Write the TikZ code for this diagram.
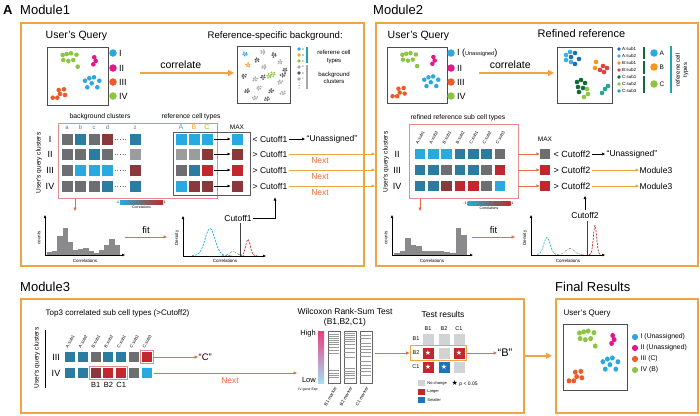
\documentclass[tikz,border=0pt]{standalone}
\usepackage{fontspec}
\setmainfont{Liberation Sans}
\newfontfamily\symfont{DejaVu Sans}
\usetikzlibrary{arrows.meta, positioning, calc, fit}

\definecolor{frameor}{HTML}{F0A443}
\definecolor{nextred}{HTML}{EC6A3C}
\definecolor{arrred}{HTML}{E8694F}
\definecolor{pinkred}{HTML}{E48C8F}
\definecolor{qblue}{HTML}{29A9E0}
\definecolor{qmag}{HTML}{E5168B}
\definecolor{qorange}{HTML}{EE5B2B}
\definecolor{qgreen}{HTML}{8CC63F}
\definecolor{bgorange}{HTML}{F7A12E}
\definecolor{bggray1}{HTML}{A7A9AC}
\definecolor{bggray2}{HTML}{58595B}
\definecolor{legteal}{HTML}{1FA5AA}
\definecolor{hmgray}{HTML}{6D6E71}
\definecolor{hmteal}{HTML}{2A7CA0}
\definecolor{hmlblue}{HTML}{27AAE1}
\definecolor{hmdred}{HTML}{8B383C}
\definecolor{hmred}{HTML}{C1272D}
\definecolor{hmlgray}{HTML}{9B9C9E}
\definecolor{histgray}{HTML}{8A8A8C}
\definecolor{asub1}{HTML}{1B6FB5}
\definecolor{asub2}{HTML}{3AAFE4}
\definecolor{bsub1}{HTML}{F7941D}
\definecolor{bsub2}{HTML}{E2403A}
\definecolor{csub1}{HTML}{0F6B37}
\definecolor{csub2}{HTML}{8DC63F}
\definecolor{csub3}{HTML}{1FA78F}
\definecolor{gpink}{HTML}{E6407E}
\definecolor{gblue}{HTML}{A5DDF3}
\definecolor{tgray}{HTML}{D1D3D4}
\definecolor{tblue}{HTML}{1C75BC}

\newcommand{\fsz}[1]{\fontsize{#1}{1.2\dimexpr#1pt\relax}\selectfont}
\newcommand{\tstar}{{\symfont\fsz{7}★}}
% query scatter, in the frame of a 61 x 58 box
\newcommand{\querydots}{%
  \foreach \px/\py in {15.7/8,19.7/7,24/6.3,29.5/7.7,16.3/13,21.3/14,26.3/13,30.7/19.7}
    {\fill[qgreen] (\px,\py) circle (2.3pt);}
  \foreach \px/\py in {47.3/10.3,48.7/13.9,46.3/17.3}
    {\fill[qmag] (\px,\py) circle (2.3pt);}
  \foreach \px/\py in {38/33.7,42.3/31.3,47/30.3,52.3/33.7,44.7/36.3,50.3/40.3,40.3/40.3}
    {\fill[qblue] (\px,\py) circle (2.3pt);}
  \foreach \px/\py in {5.7/50.7,10.3/50.7,13/47,11.7/43,17/42.3,18/48}
    {\fill[qorange] (\px,\py) circle (2.3pt);}
}

\begin{document}
\begin{tikzpicture}[x=1pt, y=-1pt,
  modtitle/.style={anchor=west, inner sep=0, font=\fsz{13}},
  txt/.style={inner sep=0.5pt, font=\fsz{#1}},
  modframe/.style={draw=frameor, line width=1.5pt, inner sep=0, anchor=north west},
  sbox/.style={draw=black!70, line width=0.9pt, inner sep=0, anchor=north west},
  hmbox/.style={draw=pinkred, line width=0.7pt, inner sep=0, anchor=north west},
  gbox/.style={draw=black!65, line width=0.8pt, inner sep=0, anchor=north west},
  selbox/.style={draw=pinkred, line width=0.8pt, inner sep=1.3pt},
  selor/.style={draw=frameor, line width=0.8pt, inner sep=2pt},
  cell/.style={minimum size=#1, inner sep=0, outer sep=0},
  ldot/.style={circle, minimum size=7.5pt, inner sep=0},
  sdot/.style={circle, minimum size=3.6pt, inner sep=0},
  lsq/.style={minimum width=7pt, minimum height=6pt, inner sep=0},
  cbar/.style={minimum width=43pt, minimum height=4pt, inner sep=0,
    left color=hmlblue, right color=hmred, middle color=hmgray},
  orarrow/.style={draw=frameor, line width=1.6pt, shorten >=3pt,
    -{Triangle[length=6pt,width=6pt]}},
  thinor/.style={draw=frameor, line width=0.9pt, shorten <=1pt,
    -{Triangle[length=3.5pt,width=3pt]}},
  redarrow/.style={draw=arrred, line width=0.8pt, -{Triangle[length=3.5pt,width=3pt]}},
  blkarrow/.style={draw=black, line width=0.6pt, shorten <=1pt, shorten >=1pt,
    -{Triangle[length=3pt,width=2.6pt]}},
  plotaxis/.style={draw=black, line width=0.6pt, -{Triangle[length=3pt,width=2.4pt]}},
  dotrow/.style={draw=black!55, line width=0.9pt, dash pattern=on 0.9pt off 1.8pt,
    shorten <=1.5pt, shorten >=1.5pt},
  dblue/.style={draw=hmlblue, line width=0.7pt, dash pattern=on 2pt off 1.2pt},
  dgray/.style={draw=black!45, line width=0.6pt, dash pattern=on 2pt off 1pt on 0.5pt off 1pt},
  dred/.style={draw=hmred, line width=0.7pt, dash pattern=on 2pt off 1.2pt},
  stripe/.style={draw=black!40, line width=0.5pt}]

\useasboundingbox (0,0) rectangle (700,415);
\fill[white] (0,0) rectangle (700,415);

% frames
\node[inner sep=0, anchor=west, font=\fsz{13}\bfseries] (panelA) at (3,10) {A};
\node[modtitle] (m1title) at (20,10) {Module1};
\node[modtitle] (m2title) at (373,10) {Module2};
\node[modtitle] (m3title) at (20,287) {Module3};
\node[modtitle] (ftitle) at (555,287) {Final Results};
\node[modframe, minimum width=343pt, minimum height=243pt] (m1box) at (20,22) {};
\node[modframe, minimum width=322pt, minimum height=243pt] (m2box) at (375,22) {};
\node[modframe, minimum width=503pt, minimum height=114pt] (m3box) at (20,298) {};
\node[modframe, minimum width=142pt, minimum height=114pt] (fbox) at (555,298) {};
\draw[orarrow] (m3box.east) -- (fbox.west);

% ---------- Module1: query and background ----------
\node[txt=10.5, anchor=west] (q1title) at (45,36) {User’s Query};
\node[sbox, minimum width=61pt, minimum height=58pt] (q1box) at (47,47) {};
\begin{scope}[shift={(47,47)}]\querydots\end{scope}
\foreach \nm/\yy/\cc in {I/53/qblue, II/68/qmag, III/82/qorange, IV/96/qgreen}{
  \node[ldot, fill=\cc] (q1d-\nm) at (113,\yy) {};
  \node[txt=9, anchor=west] (q1l-\nm) at (118.5,\yy) {\nm};
}
\node[txt=9.6, anchor=west] (bgtitle) at (207,36) {Reference-specific background:};
\node[sbox, minimum width=53pt, minimum height=57pt] (bgbox) at (237,46) {};
\coordinate (cor1s) at (140,73);
\draw[orarrow] (cor1s) -- node[pos=0.42, above=3pt, txt=10.5] (cor1lbl) {correlate} (bgbox.west |- cor1s);
\begin{scope}[shift={(237,46)}]
  \foreach \cx/\cy/\cc [count=\j] in {8/8/qblue, 11/19/bgorange, 36/28/qgreen, 32/30/qgreen,
      26/6/bggray1, 37/9/bggray2, 43/16/bggray1, 48/24/bggray2, 20/14/bggray2,
      27/21/bggray1, 7/30/bggray2, 18/33/bggray1, 26/31/bggray2, 43/36/bggray1,
      10/45/bggray2, 22/42/bggray1, 34/45/bggray2, 46/47/bggray1, 18/52/bggray1,
      30/53/bggray2, 46/29/bggray2}{
    \fill[\cc] (\cx,\cy) circle (0.95pt);
    \foreach \n in {1,...,5}{
      \pgfmathsetmacro\ang{\n*72+\j*29}
      \pgfmathsetmacro\rad{2.1+0.5*sin(\n*130+\j*50)}
      \fill[\cc] ({\cx+\rad*cos(\ang)},{\cy+0.8*\rad*sin(\ang)}) circle (0.95pt);
    }
  }
\end{scope}
\foreach \yy/\cc/\ll in {49/qblue/A, 55/bgorange/B, 61/qgreen/C, 67/bggray1/a, 73/bggray2/b, 79/bggray1/c}{
  \node[sdot, fill=\cc] (bgd-\ll) at (299,\yy) {};
  \node[txt=3, anchor=west, text=black!60] (bgt-\ll) at (301.3,\yy) {\ll};
}
\foreach \yy in {83,85.5,88} \fill[black!60] (299,\yy) circle (0.5pt);
\draw[legteal, line width=1.1pt] (307,47) -- (307,63);
\draw[black!35, line width=1.1pt] (307,65) -- (307,89);
\node[txt=6, align=center] (bgl1) at (334,57) {referene cell\\types};
\node[txt=6, align=center] (bgl2) at (334,78) {background\\clusters};

% ---------- Module1: correlation matrix ----------
\node[txt=6.8] (bgcl) at (100,117) {background clusters};
\node[txt=6.8] (rfct) at (191,117) {reference cell types};
\node[hmbox, minimum width=159pt, minimum height=75pt] (hm1box) at (58,123) {};
\node[gbox, minimum width=77pt, minimum height=63pt] (abc1box) at (173,132) {};
\foreach \ll/\xx in {a/67, b/80.5, c/94, d/107.5, z/135}
  \node[txt=6, text=black!55] (m1h-\ll) at (\xx,127.5) {\ll};
\node[txt=7, text=qblue] (m1h-A) at (181,127) {A};
\node[txt=7, text=bgorange] (m1h-B) at (194,127) {B};
\node[txt=7, text=qgreen] (m1h-C) at (207,127) {C};
\node[txt=6.5] (m1maxl) at (237,127) {MAX};
\node[txt=6.5, rotate=90] (m1ylab) at (39,163) {User’s query clusters};
\foreach \rr/\yy/\cl in {
    I/139/{hmgray,hmteal,hmgray,hmdred,hmteal,hmlblue,hmlblue,hmlblue,hmlblue},
    II/154/{hmgray,hmgray,hmteal,hmgray,hmlgray,hmlgray,hmlgray,hmdred,hmdred},
    III/170/{hmgray,hmlblue,hmlblue,hmlblue,hmdred,hmgray,hmteal,hmred,hmred},
    IV/186/{hmgray,hmgray,hmgray,hmteal,hmteal,hmlblue,hmdred,hmdred,hmdred}}{
  \node[txt=9] (m1r-\rr) at (50,\yy) {\rr};
  \foreach \cc [count=\k] in \cl {
    \pgfmathsetmacro\xx{{67,80.5,94,107.5,135,181,194,207,237}[\k-1]}
    \node[cell=11pt, fill=\cc] (m1c-\rr-\k) at (\xx,\yy) {};
  }
  \draw[dotrow] (m1c-\rr-4.east) -- (m1c-\rr-5.west);
  \draw[blkarrow] (m1c-\rr-8.east) -- (m1c-\rr-9.west);
}
\node[txt=8.5, anchor=west] (m1cut-I) at (252,139) {< Cutoff1};
\node[txt=8.5, anchor=west] (m1un) at (306,139) {“Unassigned”};
\draw[blkarrow] (m1cut-I.east) -- (m1un.west);
\foreach \rr/\yy in {II/154, III/170, IV/186}{
  \node[txt=8.5, anchor=west] (m1cut-\rr) at (252,\yy) {> Cutoff1};
  \draw[thinor] (m1cut-\rr.east) -- (m2box.west |- m1cut-\rr.east);
  \node[txt=8.5, text=nextred] (next-\rr) at (320,{\yy+7}) {Next};
}
\node[cbar] (cb1) at (141.5,202) {};
\node[txt=3.5, anchor=east] (cb1m) at (cb1.west) {-1};
\node[txt=3.5, anchor=west] (cb1p) at (cb1.east) {1};
\node[txt=3.5, below=0.6pt of cb1] (cb1t) {Correlations};

% ---------- Module1: histogram and fit ----------
\coordinate (h1top) at (75,211);
\draw[redarrow] (hm1box.south -| h1top) -- (h1top);
\coordinate (h1o) at (45,255);
\foreach \h [count=\i from 0] in {2.5,4,19,27,13,4.5,5.5,7,4,1.5,4.5,10,16,10}
  \fill[histgray] ({47+\i*5.2},254.6) rectangle ++(5.2,-\h);
\draw[plotaxis] (h1o) -- ++(0,-40);
\draw[plotaxis] (h1o) -- ++(80,0);
\node[txt=4.5, rotate=90] (h1y) at (39,238) {counts};
\node[txt=4.5] (h1x) at (85,261) {Correlations};
\coordinate (fit1s) at (125,237);
\coordinate (fit1e) at (167,237);
\draw[redarrow] (fit1s) -- node[above=3pt, txt=9.5] (fit1lbl) {fit} (fit1e);
\coordinate (d1o) at (183,256);
\draw[dblue] plot[domain=192:232, samples=40, smooth] (\x,{255.5-27*exp(-((\x-210)/7)*((\x-210)/7))});
\draw[dgray] plot[domain=222:244, samples=25, smooth] (\x,{255.5-4*exp(-((\x-233)/5)*((\x-233)/5))});
\draw[dred] plot[domain=240:257, samples=25, smooth] (\x,{255.5-16*exp(-((\x-248)/3.2)*((\x-248)/3.2))});
\draw[black!75, line width=0.8pt] (240,223) -- (240,256);
\draw[plotaxis] (d1o) -- ++(0,-40);
\draw[plotaxis] (d1o) -- ++(83,0);
\node[txt=4.5, rotate=90] (d1y) at (177,238) {Density};
\node[txt=4.5] (d1x) at (225,261) {Correlations};
\node[txt=8.5] (cut1lbl) at (238,218) {Cutoff1};
\coordinate (cut1tip) at (275,196.5);
\draw[blkarrow] (cut1lbl.east) -| (cut1tip);

% ---------- Module2: query and refined reference ----------
\node[txt=10.5, anchor=west] (q2title) at (387,36) {User’s Query};
\node[sbox, minimum width=60pt, minimum height=56pt] (q2box) at (387,47) {};
\begin{scope}[shift={(387,47)}, xscale=0.98, yscale=0.97]\querydots\end{scope}
\foreach \nm/\yy/\cc in {II/68/qmag, III/82/qorange, IV/96/qgreen}{
  \node[ldot, fill=\cc] (q2d-\nm) at (451,\yy) {};
  \node[txt=9, anchor=west] (q2l-\nm) at (456.5,\yy) {\nm};
}
\node[ldot, fill=qblue] (q2d-I) at (451,53) {};
\node[txt=9, anchor=west] (q2l-I) at (456.5,53) {I ({\fsz{5.5}Unassigned})};
\node[txt=11, anchor=west] (rftitle) at (537,34) {Refined reference};
\node[sbox, minimum width=55pt, minimum height=56pt] (rfbox) at (557,47) {};
\coordinate (cor2s) at (479,73);
\draw[orarrow] (cor2s) -- node[pos=0.4, above=3pt, txt=10.5] (cor2lbl) {correlate} (rfbox.west |- cor2s);
\foreach \px/\py/\cc in {566/55/asub2, 570/52/asub2, 566/60/asub2, 571/62/asub2,
    575/53/asub1, 579/59/asub1, 575/64/asub1, 571/57/asub1,
    596/62/bsub1, 595/68/bsub1, 603/66/bsub2, 607/68/bsub2, 604/72/bsub2, 600/70/bsub2,
    577/82/csub1, 581/80/csub1, 585/83/csub1, 578/87/csub1, 583/88/csub1, 579/92/csub1,
    587/89/csub2, 588/94/csub2, 584/97/csub2, 605/89/csub3, 608/86/csub3, 602/93/csub3}
  \fill[\cc] (\px,\py) circle (2.3pt);
\foreach \yy/\cc/\ll [count=\k] in {49/asub1/A:sub1, 56/asub2/A:sub2, 63/bsub1/B:sub1,
    70/bsub2/B:sub2, 77/csub1/C:sub1, 84/csub2/C:sub2, 91/csub3/C:sub3}{
  \node[sdot, fill=\cc] (rfd-\k) at (619,\yy) {};
  \node[txt=4.5, anchor=west] (rft-\k) at (621.5,\yy) {\ll};
}
\draw[csub1, line width=1.2pt] (644,47) -- (644,59);
\draw[csub1, line width=1.2pt] (644,61) -- (644,74);
\draw[csub1, line width=1.2pt] (644,76) -- (644,93);
\foreach \ll/\yy/\cc in {A/53/qblue, B/67/bsub1, C/84/qgreen}{
  \node[ldot, fill=\cc] (rfb-\ll) at (654,\yy) {};
  \node[txt=6.5, anchor=west] (rfbl-\ll) at (659,\yy) {\ll};
}
\draw[legteal, line width=1.1pt] (671,46) -- (671,93);
\node[txt=6, rotate=90, align=center] (rfctl) at (682,70) {referene cell\\types};

% ---------- Module2: sub cell type matrix ----------
\node[txt=6.8, anchor=west] (rsct) at (410,117.5) {refined reference sub cell types};
\node[hmbox, minimum width=109pt, minimum height=74pt] (hm2box) at (409,124) {};
\foreach \nm [count=\k] in {A:sub1,A:sub2,B:sub1,B:sub2,C:sub1,C:sub2,C:sub3}
  \node[txt=4.3, rotate=60, anchor=west] (m2h-\k) at ({420+(\k-1)*13.33-3.5},144) {\nm};
\node[txt=6.5, rotate=90] (m2ylab) at (386,162) {User’s query clusters};
\node[txt=6.5] (m2maxl) at (545,139) {MAX};
\foreach \rr/\yy/\cl in {
    II/154/{hmlblue,hmlblue,hmlblue,hmteal,hmteal,hmteal,hmgray,hmgray},
    III/170/{hmteal,hmteal,hmgray,hmteal,hmteal,hmgray,hmred,hmred},
    IV/186/{hmteal,hmteal,hmdred,hmred,hmred,hmgray,hmlblue,hmred}}{
  \node[txt=9] (m2r-\rr) at (397,\yy) {\rr};
  \foreach \cc [count=\k] in \cl {
    \pgfmathsetmacro\xx{\k<8 ? 420+(\k-1)*13.33 : 545}
    \node[cell=10.5pt, fill=\cc] (m2c-\rr-\k) at (\xx,\yy) {};
  }
  \draw[redarrow] (hm2box.east |- m2c-\rr-8.west) -- (m2c-\rr-8.west);
}
\node[txt=9, anchor=west] (m2cut-II) at (553,154) {< Cutoff2};
\node[txt=8.5, anchor=west] (m2un) at (606,154) {“Unassigned”};
\draw[blkarrow] (m2cut-II.east) -- (m2un.west);
\foreach \rr/\yy in {III/170, IV/186}{
  \node[txt=9, anchor=west] (m2cut-\rr) at (553,\yy) {> Cutoff2};
  \node[txt=8.5, anchor=west] (m2mod-\rr) at (639,\yy) {Module3};
  \draw[thinor] (m2cut-\rr.east) -- (m2mod-\rr.west);
}
\node[cbar] (cb2) at (489,203) {};
\node[txt=3.5, anchor=east] (cb2m) at (cb2.west) {-1};
\node[txt=3.5, anchor=west] (cb2p) at (cb2.east) {1};
\node[txt=3.5, below=0.6pt of cb2] (cb2t) {Correlations};

% ---------- Module2: histogram and fit ----------
\coordinate (h2top) at (420,211);
\draw[redarrow] (hm2box.south -| h2top) -- (h2top);
\coordinate (h2o) at (392,255);
\foreach \h [count=\i from 0] in {1.7,3.3,17,9.3,8.3,3.3,4,4,3.3,2.7,1.7,27,20}
  \fill[histgray] ({394+\i*5.6},254.6) rectangle ++(5.6,-\h);
\draw[plotaxis] (h2o) -- ++(0,-40);
\draw[plotaxis] (h2o) -- ++(81,0);
\node[txt=4.5, rotate=90] (h2y) at (386,238) {counts};
\node[txt=4.5] (h2x) at (432,261) {Correlations};
\coordinate (fit2s) at (472,237);
\coordinate (fit2e) at (515,237);
\draw[redarrow] (fit2s) -- node[above=3pt, txt=9.5] (fit2lbl) {fit} (fit2e);
\coordinate (d2o) at (531,255);
\draw[dblue] plot[domain=537:558, samples=30, smooth] (\x,{254.5-17*exp(-((\x-547)/4.5)*((\x-547)/4.5))});
\draw[dgray] plot[domain=557:584, samples=30, smooth] (\x,{254.5-6*exp(-((\x-570)/6)*((\x-570)/6))});
\draw[dred] plot[domain=589:601, samples=30, smooth] (\x,{254.5-29*exp(-((\x-595)/2.3)*((\x-595)/2.3))});
\draw[black!75, line width=0.8pt] (587,221) -- (587,255);
\draw[plotaxis] (d2o) -- ++(0,-40);
\draw[plotaxis] (d2o) -- ++(74,0);
\node[txt=4.5, rotate=90] (d2y) at (525,238) {Density};
\node[txt=4.5] (d2x) at (568,261) {Correlations};
\node[txt=8.5] (cut2lbl) at (585,215) {Cutoff2};
\coordinate (cut2tip) at (585,195);
\draw[blkarrow] (cut2lbl.north) -- (cut2tip);

% ---------- Module3 ----------
\node[txt=8, anchor=west] (top3) at (45,313) {Top3 correlated sub cell types (>Cutoff2)};
\draw[black, line width=0.8pt] (45,330) -- (45,388);
\node[txt=6.5, rotate=90] (m3ylab) at (37,358) {User’s query clusters};
\foreach \nm [count=\k] in {A:sub1,A:sub2,B:sub1,B:sub2,C:sub1,C:sub2,C:sub3}
  \node[txt=4.3, rotate=60, anchor=west] (m3h-\k) at ({70+(\k-1)*12.8-3.5},348) {\nm};
\foreach \rr/\yy/\cl in {
    III/357/{hmteal,hmteal,hmgray,hmteal,hmteal,hmgray,hmred},
    IV/373/{hmteal,hmteal,hmdred,hmred,hmred,hmgray,hmlblue}}{
  \node[txt=9] (m3r-\rr) at (56,\yy) {\rr};
  \foreach \cc [count=\k] in \cl
    \node[cell=10pt, fill=\cc] (m3c-\rr-\k) at ({70+(\k-1)*12.8},\yy) {};
}
\node[selbox, fit=(m3c-III-7)] (selC) {};
\node[selbox, fit=(m3c-IV-3)(m3c-IV-5)] (selB) {};
\foreach \ll/\k in {B1/3, B2/4, C1/5}
  \node[txt=7.5, below=4pt of m3c-IV-\k] (m3b-\ll) {\ll};
\node[txt=9.5, anchor=west] (qC) at (198,357) {“C”};
\draw[redarrow] (selC.east) -- (qC.west);
\coordinate (wilin) at (297,373);
\draw[redarrow] ([xshift=2pt]m3c-IV-7.east) -- (wilin);
\node[txt=8.5, text=nextred] (next3) at (230,381) {Next};

% Wilcoxon test
\node[txt=8.5, align=center] (wiltitle) at (345,317) {Wilcoxon Rank-Sum Test\\(B1,B2,C1)};
\node[minimum width=6pt, minimum height=52pt, inner sep=0, top color=gpink, bottom color=gblue] (gbar) at (321,357) {};
\node[txt=7.5, anchor=east] (ghigh) at (316.5,334) {High};
\node[txt=7.5, anchor=east] (glow) at (316.5,380) {Low};
\node[txt=3.5] (gexp) at (308,389.5) {IV gene Exp};
\foreach \nm/\bx/\ylist in {B1/328/{334,336,338,340,342,344,347,350,353,370,373,375,377},
    B2/343.5/{333,335,337,339,341,344,348,352,357,368,371,373,375,378},
    C1/359.5/{335,338,343,346,349,352,356,361,365,368,371,375}}{
  \node[draw=black!60, line width=0.5pt, minimum width=12pt, minimum height=52pt, inner sep=0, anchor=north west] (mk\nm) at (\bx,331) {};
  \foreach \yy in \ylist
    \draw[stripe] ({\bx+0.6},\yy) -- ({\bx+11.4},\yy);
  \node[txt=4.5, rotate=60, anchor=east] (mkl\nm) at ({\bx+8},387) {\nm\ marker};
}

% test results
\node[txt=8.5] (ttitle) at (443,314) {Test results};
\foreach \ll [count=\k] in {B1,B2,C1}{
  \pgfmathsetmacro\xx{{428,444,459}[\k-1]}
  \pgfmathsetmacro\yy{{339,353,367}[\k-1]}
  \node[txt=5.5] (tcol-\k) at (\xx,328.5) {\ll};
  \node[txt=5.5] (trow-\k) at (416,\yy) {\ll};
}
\foreach \rr/\cc/\col/\st in {1/1/tgray/0,1/2/tgray/0,1/3/tgray/0,2/1/hmred/1,2/2/tgray/0,
    2/3/hmred/1,3/1/hmred/1,3/2/tblue/1,3/3/tgray/0}{
  \pgfmathsetmacro\xx{{428,444,459}[\cc-1]}
  \pgfmathsetmacro\yy{{339,353,367}[\rr-1]}
  \node[cell=11pt, fill=\col, text=white] (tc-\rr-\cc) at (\xx,\yy) {\ifnum\st=1 \tstar\fi};
}
\node[selor, fit=(trow-2)(tc-2-3)] (tbox) {};
\draw[redarrow] ($(mkC1.east |- tbox.west)+(3,0)$) -- (tbox.west);
\node[txt=11, anchor=west] (qB) at (497,353) {“B”};
\draw[redarrow] (tbox.east) -- (qB.west);
\foreach \cc/\ll/\yy [count=\k] in {tgray/No change/383, hmred/Larger/391.5, tblue/Smaller/400}{
  \node[lsq, fill=\cc] (lsq-\k) at (421,\yy) {};
  \node[txt=4, right=2pt of lsq-\k] (lsl-\k) {\ll};
}
\node[txt=5, anchor=west] (pstar) at (451,383) {\tstar\ p < 0.05};

% ---------- Final results ----------
\node[txt=8, anchor=west] (fqt) at (563,314) {User’s Query};
\node[sbox, minimum width=64pt, minimum height=66pt] (fqbox) at (563,324) {};
\begin{scope}[shift={(563,324)}, xscale=1.05, yscale=1.12]\querydots\end{scope}
\foreach \nm/\yy/\cc in {I (Unassigned)/337/qblue, II (Unassigned)/348/qmag, III (C)/359/qorange, IV (B)/370/qgreen}{
  \node[ldot, minimum size=6.2pt, fill=\cc] (fd-\yy) at (635,\yy) {};
  \node[txt=6.8, anchor=west] (fl-\yy) at (640,\yy) {\nm};
}
\end{tikzpicture}
\end{document}
